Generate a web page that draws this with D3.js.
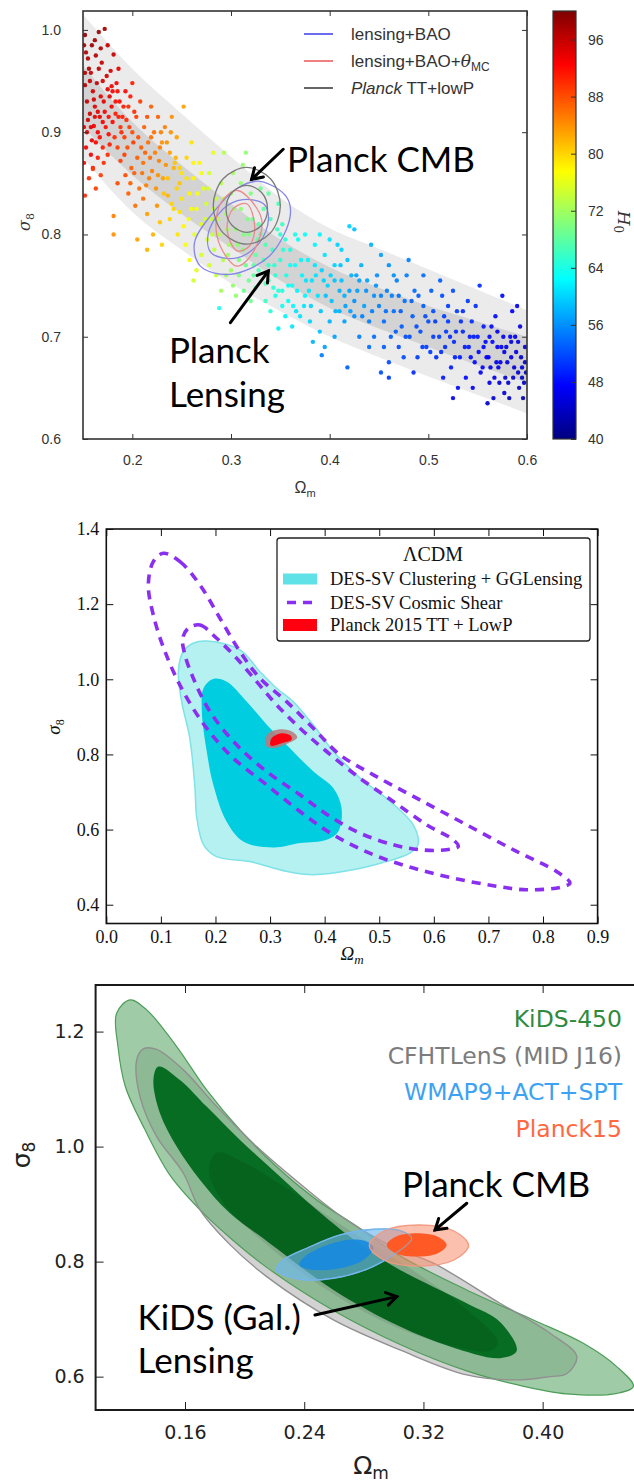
<!DOCTYPE html>
<html><head><meta charset="utf-8">
<script src="https://cdn.jsdelivr.net/npm/d3@7"></script>
<style>body{margin:0;background:#fff}svg{display:block}</style>
</head><body>
<svg id="c" width="634" height="1483"></svg>
<script>
// ================= DATA =================
// ---- Panel 1 ----
const p1XTicks = [0.2, 0.3, 0.4, 0.5, 0.6];
const p1YTicks = [0.6, 0.7, 0.8, 0.9, 1.0];
const h0Ticks = [40, 48, 56, 64, 72, 80, 88, 96];
const h0Stops = [40, 47.5, 55, 62.5, 70, 77.5, 85, 92.5, 100];
const jetColors = ["#00007f","#0000ff","#007fff","#00ffff","#7fff7f","#ffff00","#ff7f00","#ff0000","#7f0000"];
const bandOm  = [0.15,0.2,0.25,0.3,0.35,0.4,0.45,0.5,0.55,0.6];
const outerHi = [1.015,0.962,0.918,0.876,0.836,0.806,0.786,0.766,0.746,0.726];
const outerLo = [0.875,0.822,0.785,0.752,0.725,0.700,0.680,0.661,0.643,0.625];
const innerHi = [0.965,0.910,0.868,0.830,0.795,0.768,0.748,0.730,0.715,0.700];
const innerLo = [0.905,0.858,0.820,0.787,0.755,0.728,0.708,0.690,0.672,0.655];
// [Omega_m, sigma_8, H0]
const scatter = [
[0.151,0.985,98],[0.155,0.972,97],[0.158,0.958,96],[0.152,0.946,97],[0.160,0.940,95],[0.163,0.975,97],[0.166,0.962,96],[0.170,0.950,95],
[0.154,0.930,96],[0.157,0.918,95],[0.151,0.905,94],[0.162,0.925,94],[0.168,0.935,94],[0.172,0.920,93],[0.175,0.942,94],[0.178,0.960,95],
[0.181,0.976,96],[0.172,1.001,98],[0.184,0.948,93],[0.187,0.930,92],[0.180,0.910,92],[0.176,0.898,92],[0.165,0.900,93],[0.159,0.892,94],
[0.153,0.885,93],[0.151,0.870,92],[0.158,0.878,93],[0.170,0.885,91],[0.182,0.895,90],[0.190,0.915,91],[0.193,0.940,92],[0.196,0.925,90],
[0.186,0.962,94],[0.162,0.990,98],[0.168,0.982,97],[0.155,0.912,95],[0.161,0.906,93],[0.167,0.915,94],[0.173,0.905,92],[0.179,0.925,93],
[0.183,0.918,91],[0.177,0.935,94],[0.164,0.948,96],[0.156,0.962,97],[0.152,0.958,97],[0.169,0.968,96],[0.174,0.955,95],[0.188,0.905,90],
[0.192,0.895,89],[0.160,0.865,92],[0.165,0.875,91],[0.152,0.838,90],[0.160,0.864,89],[0.181,0.818,85],[0.181,0.800,84],[0.200,0.948,91],
[0.197,0.905,89],[0.185,0.885,89],[0.175,0.878,90],[0.168,0.858,89],
[0.153,0.978,97],[0.157,0.950,96],[0.161,0.932,95],[0.165,0.920,94],[0.154,0.900,94],[0.158,0.905,94],[0.163,0.890,93],[0.167,0.895,92],
[0.171,0.930,94],[0.176,0.915,92],[0.180,0.940,93],[0.183,0.930,92],[0.186,0.915,91],[0.189,0.900,90],[0.194,0.912,90],[0.198,0.935,91],
[0.202,0.920,90],[0.171,0.870,90],[0.177,0.888,91],[0.156,0.855,90],[0.163,0.845,89],[0.159,0.985,98],[0.166,0.998,98],[0.152,0.995,99],
[0.175,0.985,96],[0.179,0.945,93],[0.185,0.940,92],[0.191,0.925,91],[0.170,0.910,93],[0.162,0.915,94],
[0.195,0.885,88],[0.200,0.900,88],[0.204,0.915,89],[0.208,0.930,89],[0.212,0.905,87],[0.216,0.890,86],[0.205,0.875,87],[0.199,0.865,87],
[0.210,0.860,86],[0.218,0.875,86],[0.222,0.900,86],[0.226,0.915,87],[0.230,0.890,84],[0.214,0.848,85],[0.220,0.862,85],[0.227,0.872,85],
[0.233,0.905,85],[0.238,0.880,83],[0.224,0.845,84],[0.231,0.855,83],[0.242,0.865,82],[0.236,0.838,82],[0.207,0.845,86],[0.193,0.858,88],
[0.188,0.872,89],[0.196,0.840,87],[0.203,0.828,86],[0.211,0.835,86],[0.219,0.925,87],[0.245,0.895,83],[0.248,0.850,81],[0.225,0.828,84],
[0.240,0.915,84],[0.252,0.925,83],[0.185,0.850,88],[0.213,0.880,87],[0.228,0.885,85],[0.234,0.868,84],[0.201,0.890,89],[0.192,0.878,89],
[0.206,0.895,88],[0.209,0.885,87],[0.215,0.915,88],[0.219,0.895,86],[0.223,0.880,85],[0.229,0.900,85],[0.235,0.890,84],[0.202,0.860,87],
[0.217,0.855,85],[0.226,0.858,84],[0.198,0.850,87],[0.244,0.875,82],[0.239,0.900,84],[0.211,0.870,86],
[0.232,0.840,81],[0.240,0.830,80],[0.245,0.845,80],[0.250,0.860,79],[0.255,0.875,80],[0.258,0.840,78],[0.262,0.855,78],[0.248,0.822,79],
[0.238,0.815,80],[0.228,0.812,81],[0.252,0.808,78],[0.265,0.825,77],[0.268,0.870,78],[0.272,0.845,76],[0.260,0.890,79],[0.243,0.870,81],
[0.236,0.855,81],[0.257,0.815,77],[0.270,0.810,76],[0.275,0.830,75],[0.246,0.800,79],[0.221,0.800,82],[0.215,0.820,83],[0.263,0.800,76],
[0.278,0.860,75],[0.282,0.880,76],[0.254,0.790,77],[0.230,0.790,80],[0.215,0.785,82],[0.205,0.795,83],
[0.250,0.835,79],[0.255,0.855,79],[0.260,0.825,77],[0.266,0.840,77],[0.270,0.860,77],[0.274,0.815,75],[0.242,0.825,80],[0.248,0.865,80],
[0.277,0.845,75],[0.262,0.870,78],
[0.280,0.815,74],[0.285,0.835,74],[0.290,0.850,73],[0.288,0.800,73],[0.295,0.820,72],[0.300,0.840,72],[0.298,0.790,72],[0.305,0.805,71],
[0.310,0.825,71],[0.312,0.785,70],[0.318,0.800,70],[0.322,0.815,69],[0.315,0.770,69],[0.325,0.780,68],[0.330,0.800,68],[0.328,0.765,67],
[0.335,0.790,67],[0.338,0.770,66],[0.342,0.785,66],[0.345,0.760,65],[0.283,0.785,74],[0.276,0.795,75],[0.270,0.780,75],[0.292,0.775,73],
[0.300,0.765,72],[0.308,0.760,70],[0.318,0.755,69],[0.325,0.748,68],[0.335,0.752,67],[0.302,0.860,72],[0.312,0.868,71],[0.326,0.855,70],
[0.320,0.840,70],[0.333,0.825,68],[0.340,0.815,67],[0.348,0.830,67],[0.352,0.810,66],[0.293,0.880,73],[0.315,0.880,71],[0.285,0.760,74],
[0.278,0.770,75],[0.265,0.765,76],[0.258,0.775,77],[0.262,0.755,75],[0.290,0.745,72],[0.305,0.740,71],[0.320,0.735,69],[0.288,0.728,64],
[0.355,0.795,65],[0.347,0.805,66],[0.338,0.840,68],[0.330,0.845,69],[0.310,0.850,71],[0.296,0.805,72],[0.307,0.790,71],[0.327,0.795,68],
[0.317,0.815,70],[0.343,0.748,65],[0.350,0.775,65],[0.356,0.760,64],
[0.282,0.825,74],[0.287,0.815,73],[0.293,0.835,73],[0.297,0.780,72],[0.303,0.825,71],[0.308,0.775,70],[0.313,0.800,70],[0.323,0.770,68],
[0.328,0.810,68],[0.333,0.775,67],[0.338,0.755,66],[0.344,0.770,65],[0.348,0.745,65],[0.353,0.785,65],[0.302,0.750,71],[0.313,0.745,69],
[0.323,0.760,68],[0.295,0.760,72],[0.281,0.800,74],
[0.335,0.735,66],[0.340,0.725,65],[0.345,0.740,64],[0.352,0.745,64],[0.358,0.735,63],[0.362,0.750,63],[0.365,0.770,63],[0.360,0.785,64],
[0.368,0.795,63],[0.372,0.760,62],[0.375,0.740,62],[0.378,0.775,62],[0.382,0.755,61],[0.385,0.790,62],[0.388,0.740,61],[0.392,0.765,60],
[0.395,0.780,61],[0.398,0.750,60],[0.402,0.735,59],[0.405,0.770,60],[0.408,0.790,60],[0.412,0.755,59],[0.415,0.740,58],[0.418,0.775,59],
[0.422,0.760,58],[0.425,0.805,59],[0.420,0.808,60],[0.428,0.745,57],[0.432,0.770,58],[0.435,0.730,57],[0.438,0.755,57],[0.442,0.790,58],
[0.445,0.740,56],[0.370,0.720,61],[0.380,0.715,60],[0.362,0.710,61],[0.390,0.705,59],[0.400,0.715,58],[0.355,0.720,62],[0.348,0.708,62],
[0.365,0.800,64],[0.375,0.800,63],[0.390,0.800,62],[0.400,0.795,61],[0.412,0.785,60],[0.350,0.800,65],[0.395,0.690,57],[0.392,0.682,55],
[0.383,0.695,58],[0.405,0.700,57],[0.415,0.715,57],[0.425,0.720,56],[0.430,0.700,55],[0.410,0.725,58],[0.440,0.715,55],[0.448,0.760,56],
[0.452,0.780,57],[0.360,0.770,63],[0.385,0.770,61],[0.425,0.735,56],[0.430,0.755,57],[0.437,0.745,56],[0.443,0.725,55],[0.447,0.750,56],
[0.433,0.720,55],[0.420,0.745,57],[0.410,0.745,58],[0.405,0.755,59],
[0.358,0.750,63],[0.363,0.730,62],[0.367,0.745,62],[0.371,0.775,62],[0.376,0.755,61],[0.381,0.730,60],[0.386,0.760,61],[0.391,0.725,59],
[0.396,0.740,59],[0.401,0.760,60],[0.406,0.725,58],[0.411,0.770,59],[0.416,0.730,57],[0.421,0.725,57],[0.427,0.760,57],[0.366,0.725,61],
[0.374,0.730,61],[0.352,0.730,63],[0.379,0.745,61],[0.394,0.755,60],
[0.450,0.730,55],[0.455,0.715,54],[0.458,0.745,55],[0.462,0.700,53],[0.465,0.725,54],[0.468,0.755,55],[0.470,0.690,52],[0.473,0.710,53],
[0.476,0.735,54],[0.478,0.760,55],[0.481,0.700,52],[0.484,0.720,53],[0.486,0.745,54],[0.489,0.680,51],[0.492,0.705,52],[0.495,0.730,53],
[0.498,0.690,51],[0.500,0.715,52],[0.503,0.745,53],[0.455,0.690,53],[0.460,0.675,52],[0.475,0.680,52],[0.485,0.665,50],[0.465,0.760,56],
[0.480,0.775,55],[0.495,0.760,54],[0.490,0.740,53],[0.470,0.740,54],[0.460,0.770,56],[0.505,0.700,51],[0.445,0.700,54],[0.440,0.690,54],
[0.452,0.665,52],[0.418,0.670,53],[0.460,0.660,51],
[0.452,0.740,55],[0.457,0.725,54],[0.463,0.740,55],[0.467,0.705,53],[0.472,0.725,53],[0.477,0.700,52],[0.483,0.735,53],[0.488,0.710,52],
[0.494,0.690,51],[0.497,0.720,52],[0.502,0.685,51],[0.507,0.715,51],[0.513,0.685,50],[0.516,0.720,51],[0.522,0.700,50],[0.527,0.680,49],
[0.533,0.715,50],[0.537,0.690,49],[0.543,0.680,48],[0.546,0.700,49],
[0.505,0.725,52],[0.508,0.680,50],[0.511,0.700,51],[0.514,0.740,52],[0.517,0.690,50],[0.520,0.715,51],[0.523,0.670,49],[0.526,0.695,50],
[0.529,0.725,51],[0.532,0.680,49],[0.535,0.705,50],[0.538,0.660,48],[0.541,0.690,49],[0.544,0.715,50],[0.547,0.675,48],[0.550,0.700,49],
[0.512,0.755,53],[0.525,0.745,52],[0.540,0.735,51],[0.530,0.650,48],[0.515,0.660,49],[0.545,0.650,47],[0.520,0.730,51],[0.535,0.725,50],
[0.548,0.730,50],[0.528,0.705,50],[0.518,0.705,51],[0.542,0.700,49],[0.525,0.640,47],[0.552,0.750,50],[0.556,0.690,48],
[0.551,0.685,48],[0.555,0.670,47],[0.558,0.695,48],[0.561,0.680,47],[0.564,0.710,48],[0.567,0.660,46],[0.570,0.690,47],[0.573,0.675,46],
[0.576,0.700,47],[0.581,0.655,45],[0.584,0.680,46],[0.587,0.670,45],[0.591,0.695,46],[0.595,0.660,44],[0.598,0.675,45],[0.591,0.665,45],
[0.584,0.695,46],[0.577,0.685,46],[0.569,0.675,46],[0.562,0.700,48],
[0.553,0.665,47],[0.556,0.710,49],[0.559,0.680,47],[0.562,0.655,46],[0.565,0.695,48],[0.568,0.720,48],[0.571,0.670,46],[0.574,0.690,47],
[0.577,0.645,45],[0.580,0.675,46],[0.583,0.700,47],[0.586,0.660,45],[0.589,0.685,46],[0.592,0.650,44],[0.595,0.670,45],[0.598,0.690,46],
[0.597,0.655,44],[0.593,0.710,46],[0.585,0.725,47],[0.575,0.740,48],[0.590,0.730,47],[0.566,0.640,45],[0.578,0.660,45],[0.560,0.635,45],
[0.582,0.640,44],[0.596,0.640,43],[0.588,0.700,46],[0.570,0.705,47],[0.563,0.670,46],[0.579,0.690,46],[0.594,0.680,45],[0.599,0.665,44],
[0.572,0.655,45]
];
const greyOuter1 = [[0.316,0.8655],[0.340,0.8545],[0.350,0.828],[0.340,0.8015],[0.316,0.7905],[0.292,0.8015],[0.282,0.828],[0.292,0.8545]];
const greyInner1 = [[0.316,0.848],[0.331,0.841],[0.337,0.825],[0.331,0.809],[0.316,0.802],[0.301,0.809],[0.295,0.825],[0.301,0.841]];
const redOuter1  = [[0.307,0.843],[0.331,0.815],[0.322,0.782],[0.306,0.769],[0.289,0.789],[0.285,0.815],[0.292,0.834]];
const redInner1  = [[0.316,0.830],[0.324,0.808],[0.319,0.789],[0.306,0.784],[0.296,0.805],[0.302,0.825]];
const blueOuter1 = [[0.329,0.852],[0.356,0.837],[0.360,0.818],[0.339,0.779],[0.299,0.761],[0.269,0.769],[0.263,0.792],[0.285,0.825],[0.306,0.845]];
const blueInner1 = [[0.312,0.834],[0.333,0.830],[0.338,0.815],[0.329,0.792],[0.306,0.777],[0.280,0.782],[0.277,0.801],[0.292,0.825]];
const p1Legend = ["lensing+BAO", "lensing+BAO+θMC", "Planck TT+lowP"];

// ---- Panel 2 ----
const p2XTicks = [0,0.1,0.2,0.3,0.4,0.5,0.6,0.7,0.8,0.9];
const p2YTicks = [0.4,0.6,0.8,1.0,1.2,1.4];
const desOuter = [[0.184,1.102],[0.245,1.078],[0.281,1.021],[0.312,0.976],[0.342,0.941],[0.379,0.879],[0.416,0.808],[0.465,0.737],
  [0.520,0.675],[0.562,0.613],[0.571,0.560],[0.556,0.537],[0.513,0.515],[0.452,0.493],[0.379,0.480],[0.330,0.489],[0.263,0.515],
  [0.202,0.528],[0.178,0.560],[0.166,0.630],[0.162,0.719],[0.153,0.843],[0.138,0.941],[0.132,1.021],[0.141,1.074],[0.159,1.096]];
const desInner = [[0.196,1.001],[0.220,0.994],[0.257,0.941],[0.294,0.879],[0.330,0.826],[0.379,0.755],[0.416,0.710],[0.431,0.657],
  [0.425,0.595],[0.404,0.573],[0.355,0.564],[0.306,0.552],[0.251,0.568],[0.220,0.622],[0.196,0.719],[0.184,0.808],[0.175,0.914],[0.178,0.976]];
const shearOuter = [[0.1045,1.3353],[0.1350,1.3131],[0.1716,1.2510],[0.2082,1.1624],[0.2449,1.0737],[0.2815,1.0028],[0.3303,0.9407],
  [0.3792,0.8698],[0.4280,0.7989],[0.4891,0.7457],[0.5684,0.6837],[0.6600,0.6127],[0.7516,0.5418],[0.8248,0.4886],[0.8493,0.4576],
  [0.8310,0.4461],[0.7699,0.4398],[0.7089,0.4505],[0.6356,0.4709],[0.5623,0.4975],[0.4891,0.5330],[0.4158,0.5861],[0.3548,0.6482],
  [0.2937,0.7191],[0.2327,0.7900],[0.1838,0.8698],[0.1411,0.9673],[0.1075,1.0737],[0.0861,1.1712],[0.0770,1.2510],[0.0861,1.3131]];
const shearInner = [[0.1502,1.1358],[0.1716,1.1447],[0.2021,1.1092],[0.2388,1.0560],[0.2754,0.9939],[0.3120,0.9319],[0.3548,0.8698],
  [0.4036,0.8078],[0.4646,0.7368],[0.5257,0.6748],[0.5868,0.6127],[0.6356,0.5728],[0.6448,0.5551],[0.6234,0.5462],[0.5746,0.5462],
  [0.5257,0.5596],[0.4646,0.5906],[0.4097,0.6349],[0.3548,0.6925],[0.2937,0.7546],[0.2388,0.8255],[0.1899,0.9141],[0.1594,1.0028],
  [0.1441,1.0649],[0.1399,1.1092]];
const planckOuter2 = [[0.2907,0.8344],[0.2968,0.8565],[0.3212,0.8672],[0.3425,0.8592],[0.3499,0.8450],[0.3334,0.8299],[0.3059,0.8166],[0.2937,0.8211]];
const planckInner2 = [[0.3010,0.8237],[0.3029,0.8432],[0.3212,0.8565],[0.3377,0.8503],[0.3395,0.8388],[0.3212,0.8299]];
const p2Legend = ["DES-SV Clustering + GGLensing", "DES-SV Cosmic Shear", "Planck 2015 TT + LowP"];

// ---- Panel 3 ----
const p3XTicks = [0.16, 0.24, 0.32, 0.40];
const p3YTicks = [0.6, 0.8, 1.0, 1.2];
const cfhtOuter = [[0.1320,1.1700],[0.1410,1.1690],[0.1589,1.1334],[0.1813,1.0696],[0.2081,1.0000],[0.2394,0.9305],[0.2663,0.8760],
  [0.3000,0.8250],[0.3267,0.7972],[0.3714,0.7276],[0.4050,0.6754],[0.4229,0.6349],[0.4161,0.6050],[0.4050,0.6001],[0.3826,0.5943],
  [0.3490,0.6030],[0.3043,0.6464],[0.2596,0.6986],[0.2148,0.7740],[0.1900,0.8300],[0.1701,0.8899],[0.1589,0.9537],[0.1410,1.0174],
  [0.1298,1.0870],[0.1276,1.1510]];
const cfhtInner = [[0.1813,0.990],[0.2000,0.972],[0.2300,0.925],[0.2700,0.855],[0.3100,0.790],[0.3500,0.715],[0.3700,0.660],
  [0.3650,0.645],[0.3300,0.660],[0.2900,0.700],[0.2500,0.760],[0.2100,0.840],[0.1850,0.905],[0.1760,0.960]];
const kidsOuter = [[0.1231,1.2551],[0.1343,1.2377],[0.1544,1.1740],[0.1745,1.0986],[0.1969,1.0290],[0.2213,0.9653],[0.2484,0.9073],
  [0.2750,0.8620],[0.3043,0.8100],[0.3490,0.7508],[0.3938,0.6986],[0.4273,0.6580],[0.4497,0.6175],[0.4609,0.5830],[0.4500,0.5710],
  [0.4161,0.5700],[0.3826,0.5860],[0.3490,0.6100],[0.3043,0.6560],[0.2596,0.7150],[0.2148,0.7900],[0.1900,0.8420],[0.1701,0.8900],
  [0.1500,0.9500],[0.1330,1.0300],[0.1200,1.1040],[0.1150,1.1740],[0.1141,1.2320]];
const kidsInner = [[0.1421,1.1392],[0.1566,1.1160],[0.1745,1.0696],[0.1969,1.0116],[0.2213,0.9537],[0.2484,0.8900],[0.2800,0.8250],
  [0.3043,0.7856],[0.3490,0.7276],[0.3714,0.6950],[0.3826,0.6450],[0.3714,0.6320],[0.3378,0.6523],[0.3043,0.6870],[0.2596,0.7508],
  [0.2148,0.8360],[0.1902,0.8841],[0.1701,0.9420],[0.1544,1.0000],[0.1432,1.0580],[0.1388,1.1160]];
const wmapOuter = [[0.2211,0.7856],[0.2372,0.7693],[0.2596,0.7711],[0.2819,0.7867],[0.2998,0.8117],[0.3121,0.8406],[0.3043,0.8540],
  [0.2864,0.8563],[0.2640,0.8464],[0.2417,0.8233],[0.2260,0.8030]];
const wmapInner = [[0.2367,0.7943],[0.2461,0.7856],[0.2640,0.7885],[0.2797,0.8030],[0.2864,0.8233],[0.2819,0.8349],[0.2685,0.8378],
  [0.2528,0.8262],[0.2405,0.8088]];
const planckOuter3 = [[0.3503,0.828],[0.3405,0.8532],[0.317,0.8637],[0.2935,0.8532],[0.2837,0.828],[0.2935,0.8028],[0.317,0.7923],[0.3405,0.8028]];
const planckInner3 = [[0.3356,0.829],[0.3297,0.8434],[0.3155,0.8493],[0.3013,0.8434],[0.2954,0.829],[0.3013,0.8146],[0.3155,0.8087],[0.3297,0.8146]];
const p3Legend = ["KiDS-450", "CFHTLenS (MID J16)", "WMAP9+ACT+SPT", "Planck15"];
const p3LegendColors = ["#2f8a3e", "#7c7c7c", "#3ea2f2", "#ff6840"];

// ================= DRAW =================
const svg = d3.select("#c");
const closed = (x, y) => d3.line().x(d => x(d[0])).y(d => y(d[1])).curve(d3.curveCatmullRomClosed.alpha(0.5));

function arrow(g, x0, y0, x1, y1, w, head) {
  const a = Math.atan2(y1 - y0, x1 - x0);
  g.append("line").attr("x1", x0).attr("y1", y0).attr("x2", x1).attr("y2", y1)
    .attr("stroke", "#000").attr("stroke-width", w).attr("stroke-linecap", "round");
  const pts = [a + Math.PI * 0.82, a - Math.PI * 0.82].map(b => [x1 + head * Math.cos(b), y1 + head * Math.sin(b)]);
  g.append("path").attr("d", `M${pts[0]}L${x1},${y1}L${pts[1]}`).attr("fill", "none")
    .attr("stroke", "#000").attr("stroke-width", w).attr("stroke-linecap", "round").attr("stroke-linejoin", "miter");
}
function styleAxis(sel, font, size, color) {
  sel.select(".domain").remove();
  sel.attr("font-family", font).attr("font-size", size);
  sel.selectAll("text").attr("fill", color);
  sel.selectAll("line").attr("stroke", color);
}

// ---------- Panel 1 ----------
{
  const x = d3.scaleLinear([0.15, 0.6], [83, 527]);
  const y = d3.scaleLinear([0.6, 1.0185], [439, 11]);
  const g = svg.append("g");
  svg.append("clipPath").attr("id", "clip1").append("rect")
    .attr("x", 83).attr("y", 11).attr("width", 444).attr("height", 428);
  const pg = g.append("g").attr("clip-path", "url(#clip1)");
  const outer = d3.area().x((d, i) => x(bandOm[i])).y0((d, i) => y(outerLo[i])).y1((d, i) => y(outerHi[i])).curve(d3.curveMonotoneX);
  const inner = d3.area().x((d, i) => x(bandOm[i])).y0((d, i) => y(innerLo[i])).y1((d, i) => y(innerHi[i])).curve(d3.curveMonotoneX);
  pg.append("path").attr("d", outer(bandOm)).attr("fill", "#ebebeb");
  pg.append("path").attr("d", inner(bandOm)).attr("fill", "#d3d3d3");
  const col = d3.scaleLinear().domain(h0Stops).range(jetColors);
  pg.selectAll("circle.pt").data(scatter).join("circle").attr("class", "pt")
    .attr("cx", d => x(d[0])).attr("cy", d => y(d[1])).attr("r", 2.2)
    .attr("fill", d => col(d[2])).attr("opacity", 0.92);
  const ln = closed(x, y);
  [[blueOuter1, "#8585e6"], [blueInner1, "#8585e6"], [redOuter1, "#ea8a8a"], [redInner1, "#ea8a8a"],
   [greyOuter1, "#7a7a7a"], [greyInner1, "#7a7a7a"]].forEach(([d, c]) =>
    pg.append("path").attr("d", ln(d)).attr("fill", "none").attr("stroke", c).attr("stroke-width", 1.3));

  g.append("rect").attr("x", 83).attr("y", 11).attr("width", 444).attr("height", 428)
    .attr("fill", "none").attr("stroke", "#333").attr("stroke-width", 1.6);
  const fmt = d3.format(".1f");
  g.append("g").attr("transform", "translate(0,439)")
    .call(d3.axisBottom(x).tickValues(p1XTicks).tickFormat(fmt).tickSizeInner(-5).tickSizeOuter(0).tickPadding(16))
    .call(s => styleAxis(s, "Liberation Sans, Arial, sans-serif", 14, "#333"));
  g.append("g").attr("transform", "translate(0,11)")
    .call(d3.axisTop(x).tickValues(p1XTicks).tickFormat("").tickSizeInner(-5).tickSizeOuter(0))
    .call(s => styleAxis(s, "sans-serif", 10, "#333"));
  g.append("g").attr("transform", "translate(83,0)")
    .call(d3.axisLeft(y).tickValues(p1YTicks).tickFormat(fmt).tickSizeInner(-5).tickSizeOuter(0).tickPadding(22))
    .call(s => styleAxis(s, "Liberation Sans, Arial, sans-serif", 14, "#333"));
  g.append("g").attr("transform", "translate(527,0)")
    .call(d3.axisRight(y).tickValues(p1YTicks).tickFormat("").tickSizeInner(-5).tickSizeOuter(0))
    .call(s => styleAxis(s, "sans-serif", 10, "#333"));

  const sl = g.append("text").attr("transform", "translate(30,222) rotate(-90)").attr("text-anchor", "middle")
    .attr("font-family", "DejaVu Serif, serif").attr("font-size", 16).attr("font-style", "italic").attr("fill", "#333");
  sl.append("tspan").text("σ");
  sl.append("tspan").attr("dy", 4).attr("font-size", 11).attr("font-style", "normal").text("8");
  const ol = g.append("text").attr("x", 305).attr("y", 493).attr("text-anchor", "middle")
    .attr("font-family", "Liberation Sans, Arial, sans-serif").attr("font-size", 16).attr("fill", "#333");
  ol.append("tspan").text("Ω");
  ol.append("tspan").attr("dy", 4).attr("font-size", 11).text("m");

  const legColors = ["#6c6cf0", "#f08080", "#666"];
  const legY = [34, 61, 88];
  p1Legend.forEach((t, i) => {
    g.append("line").attr("x1", 304).attr("x2", 333).attr("y1", legY[i]).attr("y2", legY[i])
      .attr("stroke", legColors[i]).attr("stroke-width", 2);
    const tx = g.append("text").attr("x", 351).attr("y", legY[i] + 6)
      .attr("font-family", "Liberation Sans, Arial, sans-serif").attr("font-size", 17).attr("fill", "#333");
    if (i === 0) tx.text(t);
    if (i === 1) {
      tx.append("tspan").text("lensing+BAO+");
      tx.append("tspan").attr("font-style", "italic").attr("font-family", "DejaVu Serif, serif").text("θ");
      tx.append("tspan").attr("dy", 4).attr("font-size", 12).text("MC");
    }
    if (i === 2) {
      tx.append("tspan").attr("font-style", "italic").text("Planck");
      tx.append("tspan").text(" TT+lowP");
    }
  });

  const hc = d3.scaleLinear([40, 100], [439, 11]);
  const grad = svg.append("defs").append("linearGradient").attr("id", "jet")
    .attr("x1", 0).attr("y1", 1).attr("x2", 0).attr("y2", 0);
  h0Stops.forEach((v, i) => grad.append("stop").attr("offset", (v - 40) / 60).attr("stop-color", jetColors[i]));
  g.append("rect").attr("x", 553).attr("y", 11).attr("width", 23).attr("height", 428)
    .attr("fill", "url(#jet)").attr("stroke", "#333").attr("stroke-width", 1.2);
  g.append("g").attr("transform", "translate(576,0)")
    .call(d3.axisRight(hc).tickValues(h0Ticks).tickSizeInner(-5).tickSizeOuter(0).tickPadding(12))
    .call(s => styleAxis(s, "Liberation Sans, Arial, sans-serif", 14, "#333"));
  const hl = g.append("text").attr("transform", "translate(618,222) rotate(90)").attr("text-anchor", "middle")
    .attr("font-family", "DejaVu Serif, serif").attr("font-size", 17).attr("font-style", "italic").attr("fill", "#333");
  hl.append("tspan").text("H");
  hl.append("tspan").attr("dy", 4).attr("font-size", 12).attr("font-style", "normal").text("0");

  const ann = { font: "Lato, Open Sans, sans-serif", size: 35 };
  g.append("text").attr("x", x(0.3567)).attr("y", y(0.8614)).attr("font-family", ann.font).attr("font-size", ann.size).text("Planck CMB");
  g.append("text").attr("x", x(0.2371)).attr("y", y(0.6747)).attr("font-family", ann.font).attr("font-size", ann.size).text("Planck");
  g.append("text").attr("x", x(0.2371)).attr("y", y(0.6316)).attr("font-family", ann.font).attr("font-size", ann.size).text("Lensing");
  arrow(g, x(0.3529), y(0.8833), x(0.3209), y(0.8539), 3, 12);
  arrow(g, x(0.2994), y(0.7137), x(0.3378), y(0.7642), 3, 12);
}

// ---------- Panel 2 ----------
{
  const x = d3.scaleLinear([0, 0.9], [106.3, 597.6]);
  const y = d3.scaleLinear([0.35, 1.4], [923.5, 529]);
  const g = svg.append("g");
  svg.append("clipPath").attr("id", "clip2").append("rect")
    .attr("x", 106.3).attr("y", 529).attr("width", 491.3).attr("height", 394.5);
  const pg = g.append("g").attr("clip-path", "url(#clip2)");
  const ln = closed(x, y);
  pg.append("path").attr("d", ln(desOuter)).attr("fill", "#b6f1f2").attr("stroke", "#7fe2e6").attr("stroke-width", 1.5);
  pg.append("path").attr("d", ln(desInner)).attr("fill", "#00cde0");
  pg.append("path").attr("d", ln(planckOuter2)).attr("fill", "#b97a7a").attr("opacity", 0.85);
  pg.append("path").attr("d", ln(planckInner2)).attr("fill", "#ff0010");
  [shearOuter, shearInner].forEach(d =>
    pg.append("path").attr("d", ln(d)).attr("fill", "none").attr("stroke", "#8a2ff0")
      .attr("stroke-width", 3.6).attr("stroke-dasharray", "9,7"));

  g.append("rect").attr("x", 106.3).attr("y", 529).attr("width", 491.3).attr("height", 394.5)
    .attr("fill", "none").attr("stroke", "#111").attr("stroke-width", 1.6);
  const fmt = d3.format(".1f");
  const serif = "Liberation Serif, Times New Roman, serif";
  g.append("g").attr("transform", "translate(0,923.5)")
    .call(d3.axisBottom(x).tickValues(p2XTicks).tickFormat(fmt).tickSizeInner(-7).tickSizeOuter(0).tickPadding(7))
    .call(s => styleAxis(s, serif, 18, "#111"));
  g.append("g").attr("transform", "translate(0,529)")
    .call(d3.axisTop(x).tickValues(p2XTicks).tickFormat("").tickSizeInner(-7).tickSizeOuter(0))
    .call(s => styleAxis(s, serif, 10, "#111"));
  g.append("g").attr("transform", "translate(106.3,0)")
    .call(d3.axisLeft(y).tickValues(p2YTicks).tickFormat(fmt).tickSizeInner(-7).tickSizeOuter(0).tickPadding(7))
    .call(s => styleAxis(s, serif, 18, "#111"));
  g.append("g").attr("transform", "translate(597.6,0)")
    .call(d3.axisRight(y).tickValues(p2YTicks).tickFormat("").tickSizeInner(-7).tickSizeOuter(0))
    .call(s => styleAxis(s, serif, 10, "#111"));

  const sl = g.append("text").attr("transform", "translate(60,727) rotate(-90)").attr("text-anchor", "middle")
    .attr("font-family", serif).attr("font-size", 19).attr("font-style", "italic").attr("fill", "#111");
  sl.append("tspan").text("σ");
  sl.append("tspan").attr("dy", 4).attr("font-size", 12).attr("font-style", "normal").text("8");
  const ol = g.append("text").attr("x", 352).attr("y", 960).attr("text-anchor", "middle")
    .attr("font-family", serif).attr("font-size", 19).attr("font-style", "italic").attr("fill", "#111");
  ol.append("tspan").text("Ω");
  ol.append("tspan").attr("dy", 4).attr("font-size", 13).text("m");

  g.append("rect").attr("x", 277).attr("y", 538).attr("width", 313).attr("height", 103).attr("rx", 3)
    .attr("fill", "#fff").attr("stroke", "#222").attr("stroke-width", 1.3);
  g.append("text").attr("x", 433).attr("y", 561).attr("text-anchor", "middle").attr("font-family", serif)
    .attr("font-size", 20).attr("fill", "#111").text("ΛCDM");
  const rows = [579, 602.5, 625];
  g.append("rect").attr("x", 283).attr("y", rows[0] - 5.5).attr("width", 34).attr("height", 11).attr("fill", "#5ee1e7");
  g.append("line").attr("x1", 287).attr("x2", 315).attr("y1", rows[1]).attr("y2", rows[1])
    .attr("stroke", "#8a2ff0").attr("stroke-width", 3.6).attr("stroke-dasharray", "9,7");
  g.append("rect").attr("x", 283).attr("y", rows[2] - 6).attr("width", 34).attr("height", 12).attr("fill", "#ff0010");
  p2Legend.forEach((t, i) => g.append("text").attr("x", 330).attr("y", rows[i] + 6).attr("font-family", serif)
    .attr("font-size", 18.5).attr("fill", "#111").text(t));
}

// ---------- Panel 3 ----------
{
  const x = d3.scaleLinear([0.10, 0.4613], [95.6, 634]);
  const y = d3.scaleLinear([0.542, 1.281], [1410, 985]);
  const g = svg.append("g");
  svg.append("clipPath").attr("id", "clip3").append("rect")
    .attr("x", 95.6).attr("y", 985).attr("width", 538.4).attr("height", 425);
  const pg = g.append("g").attr("clip-path", "url(#clip3)");
  const ln = closed(x, y);
  pg.append("path").attr("d", ln(cfhtOuter)).attr("fill", "#d2d2d2");
  pg.append("path").attr("d", ln(kidsOuter)).attr("fill", "rgb(96,168,108)").attr("fill-opacity", 0.6)
    .attr("stroke", "#4f9d5a").attr("stroke-width", 1.2);
  pg.append("path").attr("d", ln(kidsInner)).attr("fill", "#076d22");
  pg.append("path").attr("d", ln(cfhtInner)).attr("fill", "#000").attr("fill-opacity", 0.09);
  pg.append("path").attr("d", ln(cfhtOuter)).attr("fill", "none").attr("stroke", "#909090").attr("stroke-width", 1.4);
  pg.append("path").attr("d", ln(wmapOuter)).attr("fill", "rgb(110,185,240)").attr("fill-opacity", 0.65)
    .attr("stroke", "#6cb4ee").attr("stroke-width", 1.3);
  pg.append("path").attr("d", ln(wmapInner)).attr("fill", "#1689e0").attr("fill-opacity", 0.9);
  pg.append("path").attr("d", ln(planckOuter3)).attr("fill", "rgb(250,140,110)").attr("fill-opacity", 0.55)
    .attr("stroke", "#f29a80").attr("stroke-width", 1.3);
  pg.append("path").attr("d", ln(planckInner3)).attr("fill", "#ff5a26");
  pg.append("path").attr("d", ln(wmapOuter)).attr("fill", "none").attr("stroke", "#7fb8e8").attr("stroke-width", 1.1).attr("opacity", 0.7);

  const sans = "DejaVu Sans, Verdana, sans-serif";
  g.append("path").attr("d", "M634,985H95.6V1410H634").attr("fill", "none").attr("stroke", "#1a1a1a").attr("stroke-width", 2);
  g.append("g").attr("transform", "translate(0,1410)")
    .call(d3.axisBottom(x).tickValues(p3XTicks).tickFormat(d3.format(".2f")).tickSizeInner(-8).tickSizeOuter(0).tickPadding(16))
    .call(s => styleAxis(s, sans, 19, "#222"));
  g.append("g").attr("transform", "translate(0,985)")
    .call(d3.axisTop(x).tickValues(p3XTicks).tickFormat("").tickSizeInner(-8).tickSizeOuter(0))
    .call(s => styleAxis(s, sans, 10, "#222"));
  g.append("g").attr("transform", "translate(95.6,0)")
    .call(d3.axisLeft(y).tickValues(p3YTicks).tickFormat(d3.format(".1f")).tickSizeInner(-8).tickSizeOuter(0).tickPadding(11))
    .call(s => styleAxis(s, sans, 19, "#222"));

  const sl = g.append("text").attr("transform", "translate(30,1155) rotate(-90)").attr("text-anchor", "middle")
    .attr("font-family", sans).attr("font-size", 25).attr("fill", "#222");
  sl.append("tspan").text("σ");
  sl.append("tspan").attr("dy", 5).attr("font-size", 17).text("8");
  const ol = g.append("text").attr("x", 371).attr("y", 1474).attr("text-anchor", "middle")
    .attr("font-family", sans).attr("font-size", 25).attr("fill", "#222");
  ol.append("tspan").text("Ω");
  ol.append("tspan").attr("dy", 5).attr("font-size", 17).text("m");

  const legBase = [1027, 1064, 1100, 1137];
  p3Legend.forEach((t, i) => g.append("text").attr("x", 622).attr("y", legBase[i]).attr("text-anchor", "end")
    .attr("font-family", sans).attr("font-size", 23.5).attr("fill", p3LegendColors[i]).text(t));

  const ann = { font: "Lato, Open Sans, sans-serif", size: 35 };
  g.append("text").attr("x", x(0.3056)).attr("y", y(0.9125)).attr("font-family", ann.font).attr("font-size", ann.size).text("Planck CMB");
  g.append("text").attr("x", x(0.1282)).attr("y", y(0.681)).attr("font-family", ann.font).attr("font-size", ann.size).text("KiDS (Gal.)");
  g.append("text").attr("x", x(0.1282)).attr("y", y(0.606)).attr("font-family", ann.font).attr("font-size", ann.size).text("Lensing");
  arrow(g, x(0.3491), y(0.9015), x(0.3278), y(0.8551), 3, 12);
  arrow(g, x(0.2472), y(0.7073), x(0.3021), y(0.7391), 3, 12);
}
</script>
</body></html>
